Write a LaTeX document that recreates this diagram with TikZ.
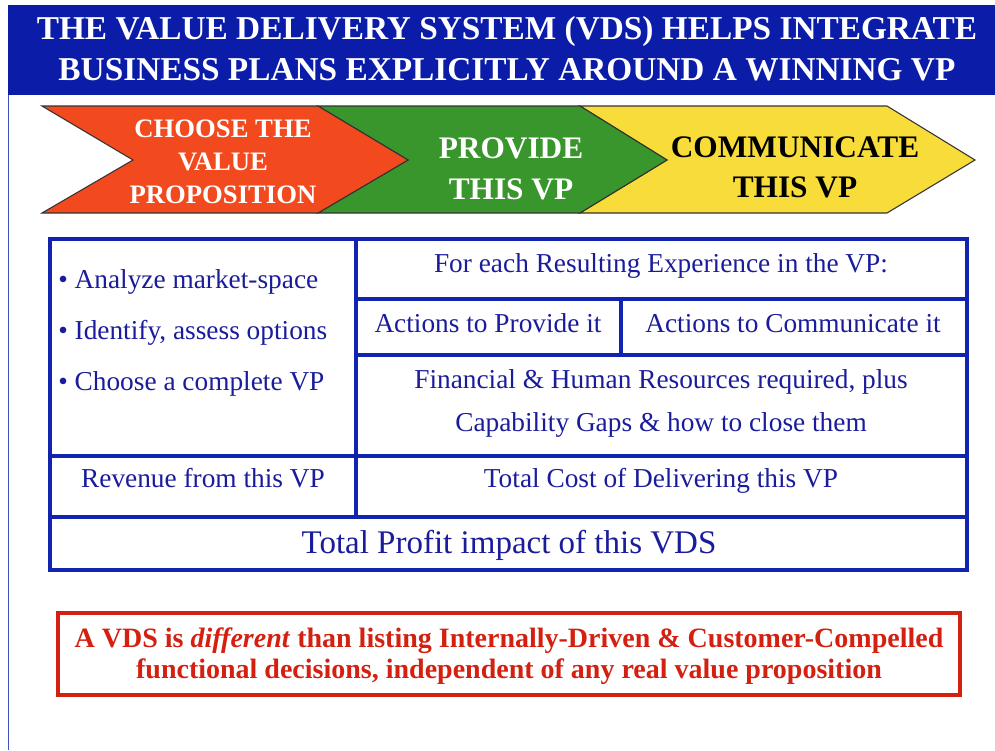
\documentclass[tikz,border=0pt]{standalone}
\usepackage{fontspec}
\setmainfont{Liberation Serif}
\definecolor{hdrblue}{HTML}{0A1CA8}
\definecolor{tblblue}{HTML}{1024B0}
\definecolor{txtblue}{HTML}{1A1C9C}
\definecolor{chred}{HTML}{F24A1E}
\definecolor{chgreen}{HTML}{38962C}
\definecolor{chyellow}{HTML}{F8DC3A}
\definecolor{boxred}{HTML}{D42010}
\begin{document}
\begin{tikzpicture}[x=0.75pt,y=-0.75pt,
  title/.style={text=white,font=\bfseries\fontsize{25}{30}\selectfont,anchor=base,inner sep=0pt},
  chevron/.style={draw=black!80,line width=0.8pt},
  redtxt/.style={text=white,font=\bfseries\fontsize{20}{24}\selectfont,anchor=base,inner sep=0pt},
  bigtxt/.style={font=\bfseries\fontsize{23.5}{28}\selectfont,anchor=base,inner sep=0pt},
  grid/.style={draw=tblblue,line width=2.3pt},
  cell/.style={text=txtblue,font=\fontsize{20.5}{24}\selectfont,anchor=base,inner sep=0pt},
  note/.style={text=boxred,font=\bfseries\fontsize{21}{25}\selectfont,anchor=base,inner sep=0pt}]
\useasboundingbox (0,0) rectangle (995,750);
\fill[white] (0,0) rectangle (995,750);
% header
\fill[hdrblue] (8,5) rectangle (995,95);
\draw[tblblue!80,line width=1.1pt] (8.5,95) -- (8.5,750);
\node[title] (t1) at (507,39) {THE VALUE DELIVERY SYSTEM (VDS) HELPS INTEGRATE};
\node[title] (t2) at (507,80) {BUSINESS PLANS EXPLICITLY AROUND A WINNING VP};
% chevrons
\draw[chevron,fill=chyellow] (580,106) -- (887,106) -- (975,160) -- (887,213) -- (580,213) -- (667,160) -- cycle;
\draw[chevron,fill=chgreen] (318,106) -- (580,106) -- (667,160) -- (580,213) -- (318,213) -- (408,160) -- cycle;
\draw[chevron,fill=chred] (42,106) -- (318,106) -- (408,160) -- (318,213) -- (42,213) -- (133,160) -- cycle;
\node[redtxt] (c1) at (223,137) {CHOOSE THE};
\node[redtxt] (c2) at (223,170) {VALUE};
\node[redtxt] (c3) at (223,203) {PROPOSITION};
\node[bigtxt,text=white] (p1) at (511,158) {PROVIDE};
\node[bigtxt,text=white] (p2) at (511,199) {THIS VP};
\node[bigtxt,text=black] (m1) at (795,157) {COMMUNICATE};
\node[bigtxt,text=black] (m2) at (795,197) {THIS VP};
% table
\draw[grid] (50,239) rectangle (967,570);
\draw[grid] (356,239) -- (356,517);
\draw[grid] (356,299) -- (967,299);
\draw[grid] (356,355) -- (967,355);
\draw[grid] (621,299) -- (621,355);
\draw[grid] (50,456) -- (967,456);
\draw[grid] (50,517) -- (967,517);
\node[cell,anchor=base west] (b1) at (58,288) {\textbullet\ Analyze market-space};
\node[cell,anchor=base west] (b2) at (58,339) {\textbullet\ Identify, assess options};
\node[cell,anchor=base west] (b3) at (58,390) {\textbullet\ Choose a complete VP};
\node[cell] (r1) at (661,272) {For each Resulting Experience in the VP:};
\node[cell] (r2) at (488,332) {Actions to Provide it};
\node[cell] (r3) at (793,332) {Actions to Communicate it};
\node[cell] (r4) at (661,388) {Financial \& Human Resources required, plus};
\node[cell] (r5) at (661,431) {Capability Gaps \& how to close them};
\node[cell] (rev) at (203,487) {Revenue from this VP};
\node[cell] (cost) at (661,487) {Total Cost of Delivering this VP};
\node[cell,font=\fontsize{24.75}{30}\selectfont] (prof) at (509,553) {Total Profit impact of this VDS};
% note box
\draw[draw=boxred,line width=2.3pt] (58,613) rectangle (960,695);
\node[note] (n1) at (509,647) {A VDS is \textit{different} than listing Internally-Driven \& Customer-Compelled};
\node[note] (n2) at (509,678) {functional decisions, independent of any real value proposition};
\end{tikzpicture}
\end{document}
